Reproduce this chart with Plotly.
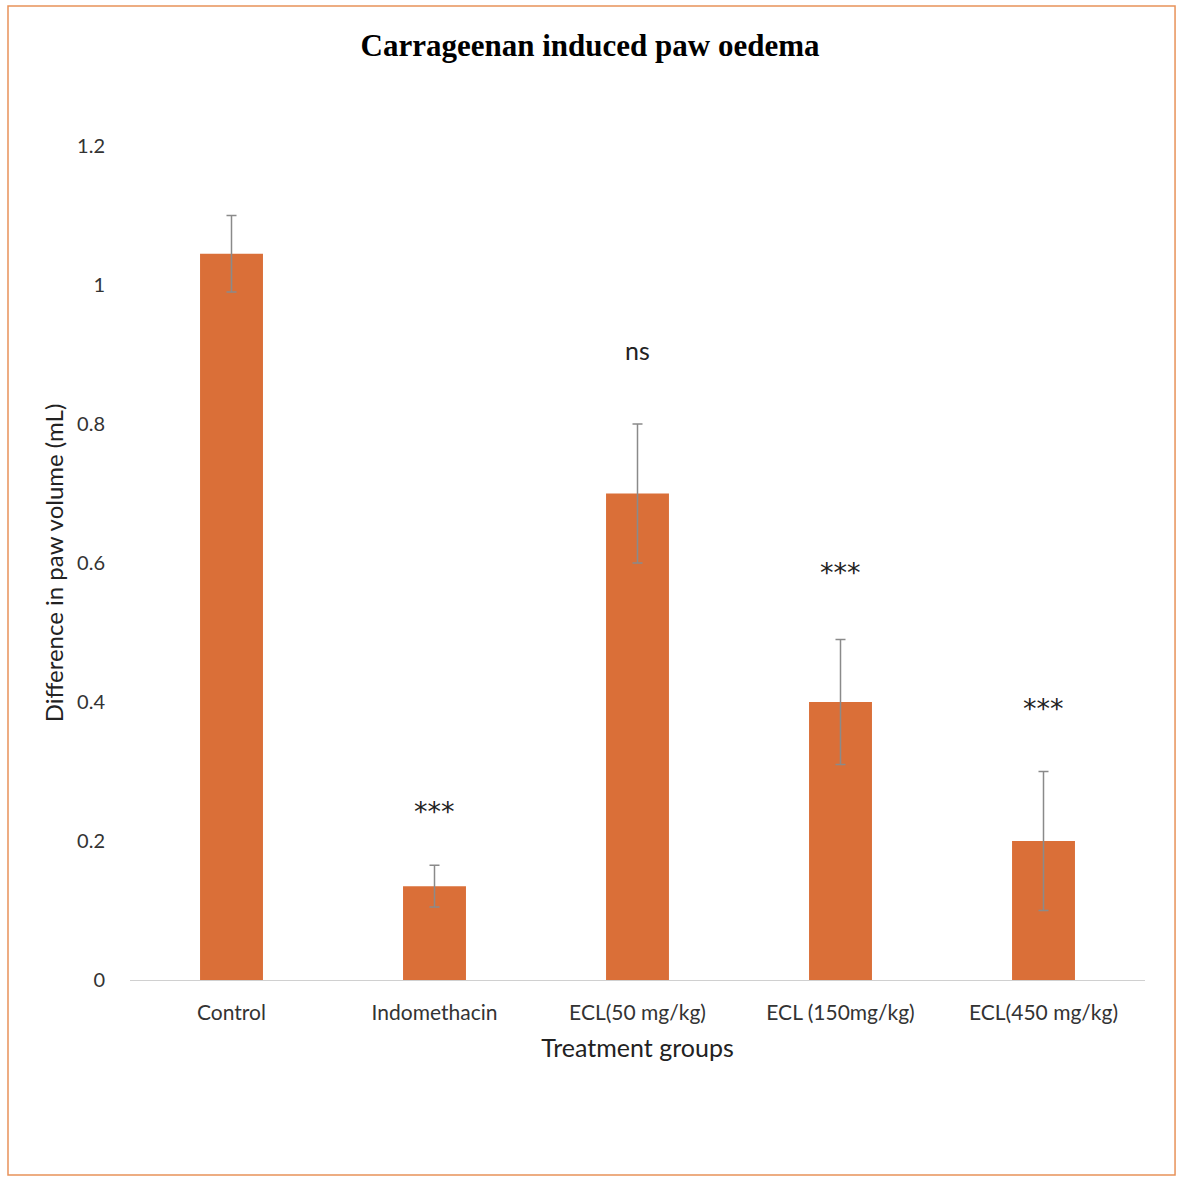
import plotly.graph_objects as go

# Mean increase in paw volume per treatment group, with error magnitude
groups = ["Control", "Indomethacin", "ECL(50 mg/kg)", "ECL (150mg/kg)", "ECL(450 mg/kg)"]
paw_volume = [1.045, 0.135, 0.70, 0.40, 0.20]
error = [0.055, 0.03, 0.10, 0.09, 0.10]
significance = ["", "***", "ns", "***", "***"]
label_height = [None, 0.242, 0.906, 0.587, 0.391]

bar_color = "#DA6F38"
label_font = "Lato, Carlito, Calibri, sans-serif"

fig = go.Figure()
fig.add_trace(go.Bar(
    x=groups,
    y=paw_volume,
    marker=dict(color=bar_color, line=dict(width=0)),
    width=0.31,
    error_y=dict(type="data", array=error, visible=True,
                 color="#8a8a8a", thickness=1.5, width=5),
))

for g, s, h in zip(groups, significance, label_height):
    if s == "ns":
        fig.add_annotation(x=g, y=h, text=s, showarrow=False,
                           font=dict(family=label_font, size=25, color="#222222"),
                           yanchor="middle")
    elif s:
        fig.add_annotation(x=g, y=h, text=s, showarrow=False,
                           font=dict(family="DejaVu Sans, sans-serif", size=27,
                                     color="#222222"),
                           yanchor="middle")

# Outer chart frame
fig.add_shape(type="rect", xref="paper", yref="paper",
              x0=-0.1202, x1=1.0296, y0=-0.2338, y1=1.168,
              line=dict(color="#E8925A", width=1.5), fillcolor="rgba(0,0,0,0)",
              layer="below")

fig.update_layout(
    width=1179, height=1179,
    margin=dict(l=130, r=34, t=146, b=199),
    paper_bgcolor="white", plot_bgcolor="white",
    showlegend=False,
    title=dict(text="<b>Carrageenan induced paw oedema</b>",
               x=590 / 1179, xref="container", xanchor="center",
               y=1 - 45 / 1179, yanchor="middle",
               font=dict(family="Liberation Serif, Times New Roman, serif",
                         size=31, color="black")),
    xaxis=dict(
        showline=True, linecolor="#d0d0d0", linewidth=1.2,
        ticks="", ticklabelstandoff=14,
        tickfont=dict(family=label_font, size=21, color="#333333"),
        title=dict(text="Treatment groups", standoff=16,
                   font=dict(family=label_font, size=25, color="#222222")),
        showgrid=False,
    ),
    yaxis=dict(
        range=[0, 1.2], tickvals=[0, 0.2, 0.4, 0.6, 0.8, 1, 1.2],
        ticktext=["0", "0.2", "0.4", "0.6", "0.8", "1", "1.2"],
        showgrid=False, zeroline=False, showline=False, ticks="",
        ticklabelstandoff=24,
        tickfont=dict(family=label_font, size=20, color="#333333"),
        title=dict(text="Difference in paw volume (mL)", standoff=6,
                   font=dict(family=label_font, size=24, color="#222222")),
    ),
)

fig.write_html("out.html")
